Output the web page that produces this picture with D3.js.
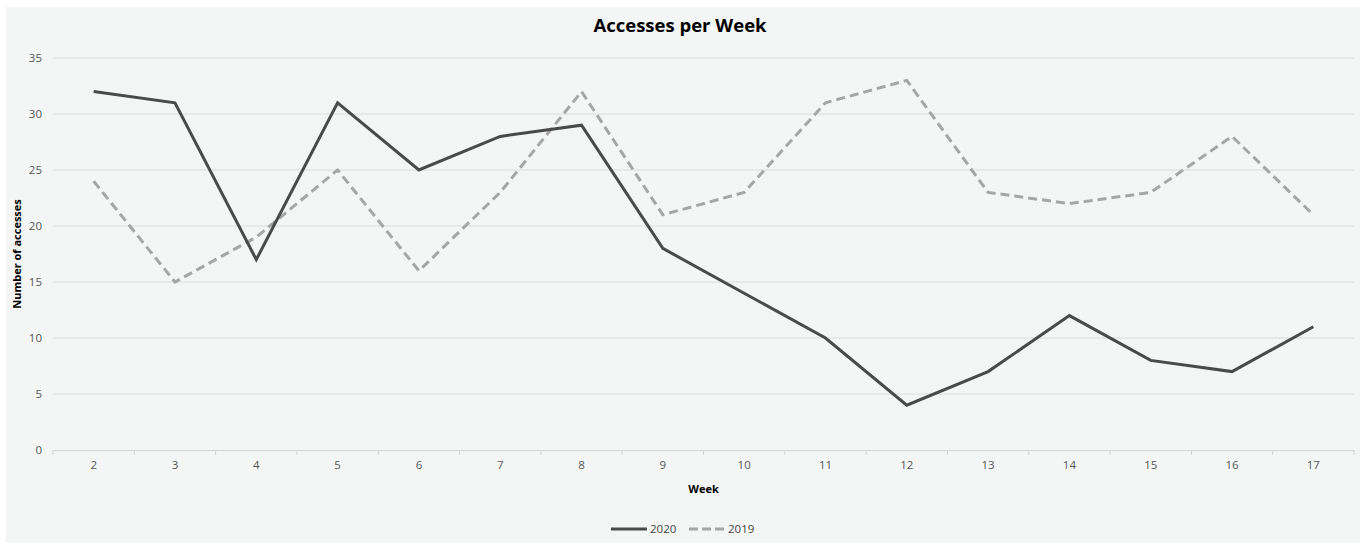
<!DOCTYPE html>
<html>
<head>
<meta charset="utf-8">
<script src="https://cdn.jsdelivr.net/npm/d3@7"></script>
<style>
  body { margin: 0; background: #ffffff; }
  svg { display: block; }
  text { font-family: "Open Sans", "Liberation Sans", sans-serif; }
</style>
</head>
<body>
<svg id="chart" width="1360" height="544"></svg>
<script>
const weeks = [2, 3, 4, 5, 6, 7, 8, 9, 10, 11, 12, 13, 14, 15, 16, 17];
const values2020 = [32, 31, 17, 31, 25, 28, 29, 18, 14, 10, 4, 7, 12, 8, 7, 11];
const values2019 = [24, 15, 19, 25, 16, 23, 32, 21, 23, 31, 33, 23, 22, 23, 28, 21];
const yTicks = [0, 5, 10, 15, 20, 25, 30, 35];
const seriesNames = ["2020", "2019"];

(function () {
const svg = d3.select("#chart");
const W = 1360, H = 544;

svg.append("rect").attr("x", 6).attr("y", 7).attr("width", W - 6).attr("height", H - 8)
  .attr("fill", "#f4f5f5");

const pLeft = 53, pRight = 1354, pTop = 58, pBottom = 450;

const x = d3.scaleBand().domain(weeks).range([pLeft, pRight]).padding(0);
const y = d3.scaleLinear().domain([0, 35]).range([pBottom, pTop]);

svg.append("g").selectAll("line").data(yTicks.filter(d => d > 0)).join("line")
  .attr("x1", pLeft).attr("x2", pRight)
  .attr("y1", d => y(d)).attr("y2", d => y(d))
  .attr("stroke", "#dcdcdc").attr("stroke-width", 1);

const yAxis = d3.axisLeft(y).tickValues(yTicks).tickSize(0).tickPadding(11);
const gy = svg.append("g").attr("transform", `translate(${pLeft},0)`).call(yAxis);
gy.select(".domain").remove();
gy.selectAll("text").attr("fill", "#555555").style("font-size", "11.5px");

const xAxis = d3.axisBottom(x).tickSize(0).tickPadding(11);
const gx = svg.append("g").attr("transform", `translate(0,${pBottom})`).call(xAxis);
gx.select(".domain").attr("stroke", "#d4d4d4");
gx.selectAll("text").attr("fill", "#555555").style("font-size", "11.5px");
const bounds = weeks.map(w => x(w)).concat([x(weeks[weeks.length - 1]) + x.bandwidth()]);
svg.append("g").selectAll("line").data(bounds).join("line")
  .attr("x1", d => d).attr("x2", d => d)
  .attr("y1", pBottom).attr("y2", pBottom + 5)
  .attr("stroke", "#d4d4d4").attr("stroke-width", 1);

const cx = w => x(w) + x.bandwidth() / 2;
const line = d3.line().x(d => cx(d.w)).y(d => y(d.v));

svg.append("path")
  .datum(weeks.map((w, i) => ({ w, v: values2019[i] })))
  .attr("d", line).attr("fill", "none")
  .attr("stroke", "#a6a6a6").attr("stroke-width", 3)
  .attr("stroke-dasharray", "9,5");

svg.append("path")
  .datum(weeks.map((w, i) => ({ w, v: values2020[i] })))
  .attr("d", line).attr("fill", "none")
  .attr("stroke", "#4a4a4a").attr("stroke-width", 3);

svg.append("text").attr("x", 680).attr("y", 32).attr("text-anchor", "middle")
  .style("font-size", "18.5px").style("font-weight", "bold").attr("fill", "#000")
  .text("Accesses per Week");

svg.append("text").attr("transform", "translate(21,254) rotate(-90)")
  .attr("text-anchor", "middle").style("font-size", "11px").style("font-weight", "bold")
  .attr("fill", "#000").text("Number of accesses");

svg.append("text").attr("x", (pLeft + pRight) / 2).attr("y", 493).attr("text-anchor", "middle")
  .style("font-size", "11px").style("font-weight", "bold").attr("fill", "#000").text("Week");

const legend = svg.append("g");
const legItems = [
  { name: seriesNames[0], x0: 611, color: "#4a4a4a", dash: null },
  { name: seriesNames[1], x0: 689, color: "#a6a6a6", dash: "9,4" }
];
legItems.forEach(it => {
  legend.append("line").attr("x1", it.x0).attr("x2", it.x0 + 36)
    .attr("y1", 529).attr("y2", 529)
    .attr("stroke", it.color).attr("stroke-width", 3)
    .attr("stroke-dasharray", it.dash);
  legend.append("text").attr("x", it.x0 + 39).attr("y", 533)
    .style("font-size", "11.5px").attr("fill", "#444444").text(it.name);
});
})();
</script>
</body>
</html>
